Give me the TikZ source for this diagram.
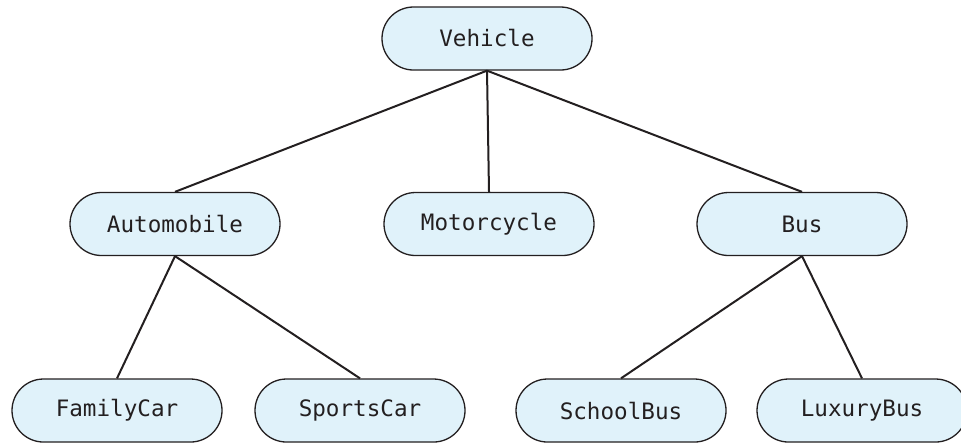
\documentclass[tikz,border=0pt]{standalone}
\usepackage{fontspec}
\setmonofont{DejaVu Sans Mono}
\definecolor{boxfill}{HTML}{E0F2FA}
\definecolor{ink}{HTML}{231F20}
\begin{document}
\begin{tikzpicture}[x=0.5pt,y=-0.5pt,
  cls/.style={draw=ink, line width=0.65pt, fill=boxfill, rectangle,
    rounded corners=15.75pt, minimum width=105pt, minimum height=31.5pt,
    inner sep=0pt, text=ink, font=\ttfamily\fontsize{11.3}{13}\selectfont},
  link/.style={line width=1pt, ink}]
\useasboundingbox (0,0) rectangle (961,446);
\begin{scope}
\clip (0,0) rectangle (961,446);
\node[cls] (veh) at (487,38.5) {Vehicle};
\node[cls] (auto) at (175,224) {Automobile};
\node[cls] (moto) at (489,224) {Motorcycle};
\node[cls] (bus) at (802,224) {Bus};
\node[cls] (fam) at (117,410.5) {FamilyCar};
\node[cls] (spo) at (360,410.5) {SportsCar};
\node[cls] (sch) at (621,410.5) {SchoolBus};
\node[cls] (lux) at (862,410.5) {LuxuryBus};
\draw[link] (veh.south) -- (auto.north);
\draw[link] (veh.south) -- (moto.north);
\draw[link] (veh.south) -- (bus.north);
\draw[link] (auto.south) -- (fam.north);
\draw[link] (auto.south) -- (spo.north);
\draw[link] (bus.south) -- (sch.north);
\draw[link] (bus.south) -- (lux.north);
\end{scope}
\end{tikzpicture}
\end{document}
